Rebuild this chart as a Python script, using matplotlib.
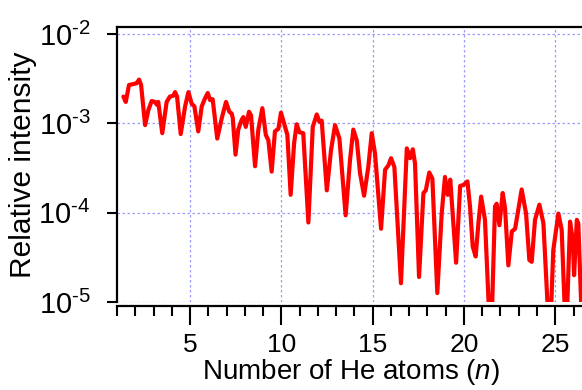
import matplotlib
matplotlib.use("Agg")
import matplotlib.pyplot as plt
from matplotlib.ticker import MultipleLocator, FixedLocator, NullLocator
import numpy as np

plt.rcParams["font.family"] = ["Liberation Sans", "DejaVu Sans"]
plt.rcParams["mathtext.fontset"] = "custom"
plt.rcParams["mathtext.rm"] = "Liberation Sans"
plt.rcParams["mathtext.it"] = "Liberation Sans:italic"
plt.rcParams["mathtext.bf"] = "Liberation Sans:bold"

# Cluster size n (He atoms) and log10 of the relative ion intensity
n_atoms = [
    1.35, 1.48, 1.66, 1.90, 2.08, 2.21, 2.32, 2.54, 2.72, 2.90,
    3.08, 3.18, 3.26, 3.48, 3.72, 3.90, 4.09, 4.18, 4.29, 4.49,
    4.73, 4.91, 5.09, 5.24, 5.45, 5.64, 5.82, 5.97, 6.10, 6.24,
    6.49, 6.74, 6.97, 7.15, 7.28, 7.34, 7.49, 7.64, 7.83, 7.92,
    8.05, 8.23, 8.34, 8.56, 8.74, 8.96, 9.15, 9.29, 9.47, 9.65,
    9.84, 9.98, 10.20, 10.33, 10.51, 10.70, 10.84, 10.99, 11.20, 11.48,
    11.72, 11.94, 12.08, 12.21, 12.49, 12.72, 12.94, 13.18, 13.52, 13.76,
    13.94, 14.13, 14.31, 14.53, 14.76, 14.95, 15.13, 15.46, 15.68, 15.86,
    16.01, 16.19, 16.55, 16.87, 17.05, 17.20, 17.32, 17.54, 17.78, 17.91,
    18.10, 18.27, 18.54, 18.78, 18.96, 19.11, 19.25, 19.57, 19.79, 19.97,
    20.19, 20.33, 20.48, 20.64, 20.79, 20.94, 21.15, 21.39, 21.52, 21.70,
    21.79, 21.94, 22.12, 22.25, 22.43, 22.62, 22.80, 23.16, 23.40, 23.58,
    23.71, 23.89, 24.13, 24.35, 24.62, 24.75, 24.89, 25.17, 25.35, 25.54,
    25.63, 25.81, 25.96, 26.03, 26.18, 26.26, 26.45,
]
log_intensity = [
    -2.70, -2.76, -2.57, -2.56, -2.55, -2.51, -2.57, -3.02, -2.85, -2.75,
    -2.76, -2.79, -2.76, -3.11, -2.76, -2.70, -2.69, -2.65, -2.70, -3.12,
    -2.81, -2.65, -2.78, -2.81, -3.09, -2.81, -2.72, -2.66, -2.74, -2.73,
    -3.17, -2.94, -2.76, -2.87, -2.89, -2.94, -3.35, -3.07, -2.96, -2.93,
    -3.04, -2.87, -2.91, -3.48, -3.07, -2.83, -3.13, -3.19, -3.54, -3.09,
    -3.06, -2.88, -3.04, -3.13, -3.80, -3.22, -3.01, -3.10, -3.11, -4.11,
    -3.04, -2.90, -2.98, -2.97, -3.75, -3.30, -3.02, -3.17, -4.03, -3.41,
    -3.07, -3.19, -3.56, -3.81, -3.49, -3.11, -3.34, -4.18, -3.52, -3.47,
    -3.39, -3.49, -4.79, -3.28, -3.39, -3.29, -3.45, -4.72, -3.78, -3.75,
    -3.55, -3.62, -4.90, -4.01, -3.60, -3.80, -3.63, -4.56, -3.70, -3.69,
    -3.65, -3.93, -4.38, -4.49, -4.12, -3.82, -4.08, -5.20, -5.20, -3.93,
    -3.90, -4.14, -3.78, -3.95, -4.59, -4.21, -4.18, -3.74, -4.01, -4.53,
    -4.55, -4.08, -3.91, -4.12, -5.20, -5.20, -4.42, -4.01, -4.19, -5.20,
    -5.20, -4.10, -4.31, -4.70, -4.08, -4.12, -5.20,
]

x_major = [5, 10, 15, 20, 25]
y_major = [1e-5, 1e-4, 1e-3, 1e-2]
y_exponents = ["-5", "-4", "-3", "-2"]

intensity = 10.0 ** np.asarray(log_intensity)

fig = plt.figure(figsize=(5.82, 3.90), dpi=100)
ax = fig.add_axes([0.2010, 0.2256, 0.8033, 0.7051])

ax.plot(n_atoms, intensity, color="#ff0000", linewidth=3.0,
        solid_joinstyle="round", solid_capstyle="round")

ax.set_yscale("log")
ax.set_xlim(1.0, 26.6)
ax.set_ylim(1e-5, 10 ** (-2 + 7 / 89.33))

ax.xaxis.set_major_locator(FixedLocator(x_major))
ax.xaxis.set_minor_locator(MultipleLocator(1))
ax.yaxis.set_major_locator(FixedLocator(y_major))
ax.yaxis.set_minor_locator(NullLocator())
# decade labels with a short hyphen in the exponent
ax.set_yticklabels([r"$10^{\mathrm{%s}}$" % e.replace("-", "\u2010")
                    for e in y_exponents])

ax.grid(True, which="major", color="#9c9cff", linestyle=(0, (2.0, 2.0)),
        linewidth=0.9)
ax.set_axisbelow(True)

for side in ("left", "bottom", "top"):
    ax.spines[side].set_linewidth(1.6)
    ax.spines[side].set_color("black")
ax.spines["right"].set_visible(False)
ax.spines["bottom"].set_position(("outward", 3))

ax.tick_params(axis="x", which="major", direction="out", length=14,
               width=1.5, labelsize=19, pad=5, color="black")
ax.tick_params(axis="x", which="minor", direction="out", length=7,
               width=1.5, color="black")
ax.tick_params(axis="y", which="major", direction="out", length=7,
               width=1.5, labelsize=21, pad=12, color="black")

ax.set_xlabel(r"Number of He atoms ($n$)", fontsize=20, labelpad=0.5)
ax.set_ylabel("Relative intensity", fontsize=21.5, labelpad=1)

fig.savefig("out.png", dpi=100)
